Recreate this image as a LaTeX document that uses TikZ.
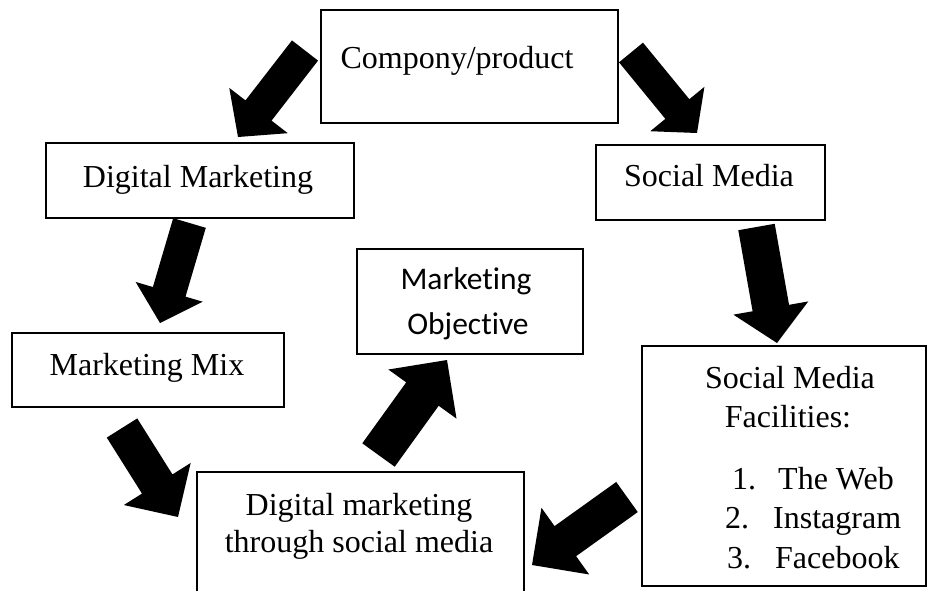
\documentclass[tikz,border=0pt]{standalone}
\usepackage{fontspec}
\setmainfont{Liberation Serif}
\newfontfamily\calib[Ligatures=NoCommon]{Carlito}
\usetikzlibrary{calc}
% block arrow: #1 tail centre, #2 tip, #3 shaft half width, #4 head half width, #5 head length
\newcommand\blockarr[5]{%
  \coordinate (ba-#1) at ($(#2)!#5pt!(#1)$);
  \fill[black] ($(#1)!#3pt!90:(#2)$) -- ($(ba-#1)!#3pt!90:(#2)$) -- ($(ba-#1)!#4pt!90:(#2)$)
    -- (#2) -- ($(ba-#1)!#4pt!-90:(#2)$) -- ($(ba-#1)!#3pt!-90:(#2)$)
    -- ($(#1)!#3pt!-90:(#2)$) -- cycle;}
\begin{document}
\begin{tikzpicture}[x=1pt,y=-1pt,
  box/.style={draw,line width=1.5pt,rectangle,inner sep=0pt},
  lbl/.style={anchor=base,inner sep=0pt,font=\fontsize{32}{38}\selectfont},
  sans/.style={anchor=base,inner sep=0pt,font=\calib\fontsize{31.5}{38}\selectfont}]
\useasboundingbox[fill=white] (0,0) rectangle (927,590);
% boxes
\node[box,minimum width=297pt,minimum height=113pt] (comp) at (469.5,66.5) {};
\node[box,minimum width=308pt,minimum height=75pt] (dm) at (200,180.5) {};
\node[box,minimum width=229pt,minimum height=75pt] (sm) at (710.5,182.5) {};
\node[box,minimum width=226pt,minimum height=105pt] (mo) at (470,301.5) {};
\node[box,minimum width=272pt,minimum height=74pt] (mm) at (148,370) {};
\node[box,minimum width=327pt,minimum height=123pt] (dmt) at (360.5,533.5) {};
\node[box,minimum width=284pt,minimum height=240pt] (smf) at (784,466) {};
% texts
\node[lbl] (tcomp) at (457,68) {Compony/product};
\node[lbl] (tdm) at (198,187) {Digital Marketing};
\node[lbl] (tsm) at (709,186) {Social Media};
\node[sans] (tmo1) at (466,289) {Marketing};
\node[sans] (tmo2) at (468,334) {Objective};
\node[lbl] (tmm) at (147,375) {Marketing Mix};
\node[lbl] (tdmt1) at (359,515) {Digital marketing};
\node[lbl] (tdmt2) at (359,552) {through social media};
\node[lbl] (tsmf1) at (790,388) {Social Media};
\node[lbl] (tsmf2) at (788,427) {Facilities:};
\node[lbl,anchor=base west] (n1) at (732,489) {1.};
\node[lbl,anchor=base west] (i1) at (778,489) {The Web};
\node[lbl,anchor=base west] (n2) at (725,528) {2.};
\node[lbl,anchor=base west] (i2) at (773,528) {Instagram};
\node[lbl,anchor=base west] (n3) at (727,568) {3.};
\node[lbl,anchor=base west] (i3) at (775,568) {Facebook};
% arrow end points
\coordinate (a1s) at (305,50.5);  \coordinate (a1e) at (238,137);
\coordinate (a2s) at (631,52.5);  \coordinate (a2e) at (697,133);
\coordinate (a3s) at (189.5,223); \coordinate (a3e) at (160,323);
\coordinate (a4s) at (756.5,227); \coordinate (a4e) at (777,343);
\coordinate (a5s) at (122,428);   \coordinate (a5e) at (178,517);
\coordinate (a6s) at (378.5,455); \coordinate (a6e) at (447,360);
\coordinate (a7s) at (627,497);   \coordinate (a7e) at (532,565);
\blockarr{a1s}{a1e}{16.5}{37}{33.5}
\blockarr{a2s}{a2e}{15.5}{35}{31}
\blockarr{a3s}{a3e}{17}{35}{32.5}
\blockarr{a4s}{a4e}{18.5}{38}{35.5}
\blockarr{a5s}{a5e}{18}{39.5}{39}
\blockarr{a6s}{a6e}{20}{42}{42}
\blockarr{a7s}{a7e}{18.5}{41}{41}
\end{tikzpicture}
\end{document}
